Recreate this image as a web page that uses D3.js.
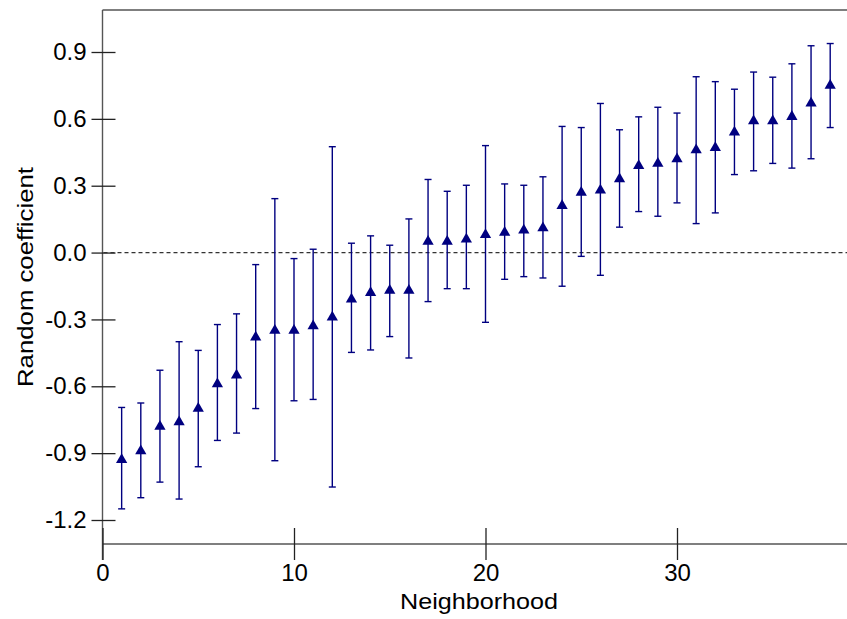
<!DOCTYPE html>
<html>
<head>
<meta charset="utf-8">
<script src="https://cdn.jsdelivr.net/npm/d3@7"></script>
<style>
  body { margin: 0; background: #fff; }
  svg { display: block; font-family: Arial, "Liberation Sans", sans-serif; }
</style>
</head>
<body>
<svg id="chart" width="847" height="619"></svg>
<script>
const width = 847;
const height = 619;
const axis_color = "#555";
const bar_color = "#000080";

// neighborhood rank, estimate and interval ends
const neighborhoods = d3.range(1, 39);
const estimates = [-0.93, -0.89, -0.78, -0.76, -0.70, -0.59, -0.55, -0.38, -0.35, -0.35,
    -0.33, -0.29, -0.21, -0.18, -0.17, -0.17, 0.05, 0.05, 0.06, 0.08,
    0.09, 0.10, 0.11, 0.21, 0.27, 0.28, 0.33, 0.39, 0.40, 0.42,
    0.46, 0.47, 0.54, 0.59, 0.59, 0.61, 0.67, 0.75];
const upper = [-0.695, -0.675, -0.528, -0.40, -0.439, -0.323, -0.275, -0.054, 0.242, -0.027,
    0.015, 0.475, 0.042, 0.075, 0.033, 0.151, 0.328, 0.275, 0.302, 0.48,
    0.308, 0.302, 0.34, 0.566, 0.561, 0.669, 0.551, 0.609, 0.652, 0.626,
    0.789, 0.767, 0.733, 0.81, 0.787, 0.847, 0.928, 0.938];
const lower = [-1.15, -1.10, -1.03, -1.106, -0.961, -0.843, -0.81, -0.70, -0.934, -0.665,
    -0.659, -1.052, -0.448, -0.437, -0.377, -0.473, -0.22, -0.162, -0.162, -0.313,
    -0.12, -0.108, -0.114, -0.151, -0.017, -0.102, 0.114, 0.184, 0.163, 0.223,
    0.13, 0.178, 0.35, 0.367, 0.40, 0.379, 0.421, 0.561];
const xTicks = [0, 10, 20, 30];
const yTicks = [0.9, 0.6, 0.3, 0.0, -0.3, -0.6, -0.9, -1.2];

var svg = d3.select("#chart");

var x = d3.scaleLinear().domain([0, 40]).range([102.5, 868.5]);
var y = d3.scaleLinear().domain([-1.2, 0.9]).range([520, 52]);

const top_y = 10;
const axis_y = 544;

/* frame: top border, left axis, bottom axis */
svg.append("line")
    .attr("x1", x(0)).attr("x2", width)
    .attr("y1", top_y).attr("y2", top_y)
    .attr("stroke", axis_color).attr("stroke-width", 1.4);
svg.append("line")
    .attr("x1", x(0)).attr("x2", x(0))
    .attr("y1", top_y).attr("y2", 560)
    .attr("stroke", axis_color).attr("stroke-width", 1.4);
svg.append("line")
    .attr("x1", x(0)).attr("x2", width)
    .attr("y1", axis_y).attr("y2", axis_y)
    .attr("stroke", axis_color).attr("stroke-width", 1.4);

/* y axis - ticks cross the axis line */
var yAxis = svg.append("g")
    .attr("transform", "translate(" + x(0) + ",0)")
    .call(d3.axisLeft(y).tickValues(yTicks).tickSize(11)
        .tickFormat((d) => d3.format(".1f")(d).replace("\u2212", "-")));
yAxis.select(".domain").remove();
yAxis.selectAll(".tick line")
    .attr("x1", 13).attr("x2", -11)
    .attr("stroke", "#222").attr("stroke-width", 1.3);
yAxis.selectAll(".tick text")
    .attr("x", -16)
    .attr("font-size", 24)
    .attr("font-family", "Arial, 'Liberation Sans', sans-serif")
    .attr("fill", "#000");

/* x axis */
var xAxis = svg.append("g")
    .attr("transform", "translate(0," + axis_y + ")")
    .call(d3.axisBottom(x).tickValues(xTicks).tickSize(16).tickFormat(d3.format("d")));
xAxis.select(".domain").remove();
xAxis.selectAll(".tick line")
    .attr("y1", -16).attr("y2", 16)
    .attr("stroke", "#222").attr("stroke-width", 1.3);
xAxis.selectAll(".tick text")
    .attr("y", 20)
    .attr("font-size", 24)
    .attr("font-family", "Arial, 'Liberation Sans', sans-serif")
    .attr("fill", "#000");

/* axis titles */
svg.append("text")
    .attr("x", 479).attr("y", 609)
    .attr("text-anchor", "middle")
    .attr("font-size", 22)
    .attr("textLength", 158)
    .attr("lengthAdjust", "spacingAndGlyphs")
    .text("Neighborhood");
svg.append("text")
    .attr("transform", "translate(33,277) rotate(-90)")
    .attr("text-anchor", "middle")
    .attr("font-size", 22)
    .attr("textLength", 220)
    .attr("lengthAdjust", "spacingAndGlyphs")
    .text("Random coefficient");

/* zero reference line */
svg.append("line")
    .attr("x1", x(0) + 1).attr("x2", width)
    .attr("y1", y(0)).attr("y2", y(0))
    .attr("stroke", "#333").attr("stroke-width", 1.2)
    .attr("stroke-dasharray", "4,3");

/* error bars with caps and triangle markers */
var rows = neighborhoods.map((n, i) => {
    return {n: n, est: estimates[i], lo: lower[i], hi: upper[i]};
});

var bars = svg.append("g").selectAll("g.bar")
    .data(rows)
    .enter()
    .append("g")
    .attr("class", "bar");

bars.append("line")
    .attr("x1", (d) => x(d.n)).attr("x2", (d) => x(d.n))
    .attr("y1", (d) => y(d.hi)).attr("y2", (d) => y(d.lo))
    .attr("stroke", bar_color).attr("stroke-width", 1.4);
bars.append("line")
    .attr("x1", (d) => x(d.n) - 3.5).attr("x2", (d) => x(d.n) + 3.5)
    .attr("y1", (d) => y(d.hi)).attr("y2", (d) => y(d.hi))
    .attr("stroke", bar_color).attr("stroke-width", 1.4);
bars.append("line")
    .attr("x1", (d) => x(d.n) - 3.5).attr("x2", (d) => x(d.n) + 3.5)
    .attr("y1", (d) => y(d.lo)).attr("y2", (d) => y(d.lo))
    .attr("stroke", bar_color).attr("stroke-width", 1.4);
bars.append("path")
    .attr("d", d3.symbol().type(d3.symbolTriangle).size(55))
    .attr("transform", (d) => "translate(" + x(d.n) + "," + y(d.est) + ")")
    .attr("fill", bar_color);
</script>
</body>
</html>
